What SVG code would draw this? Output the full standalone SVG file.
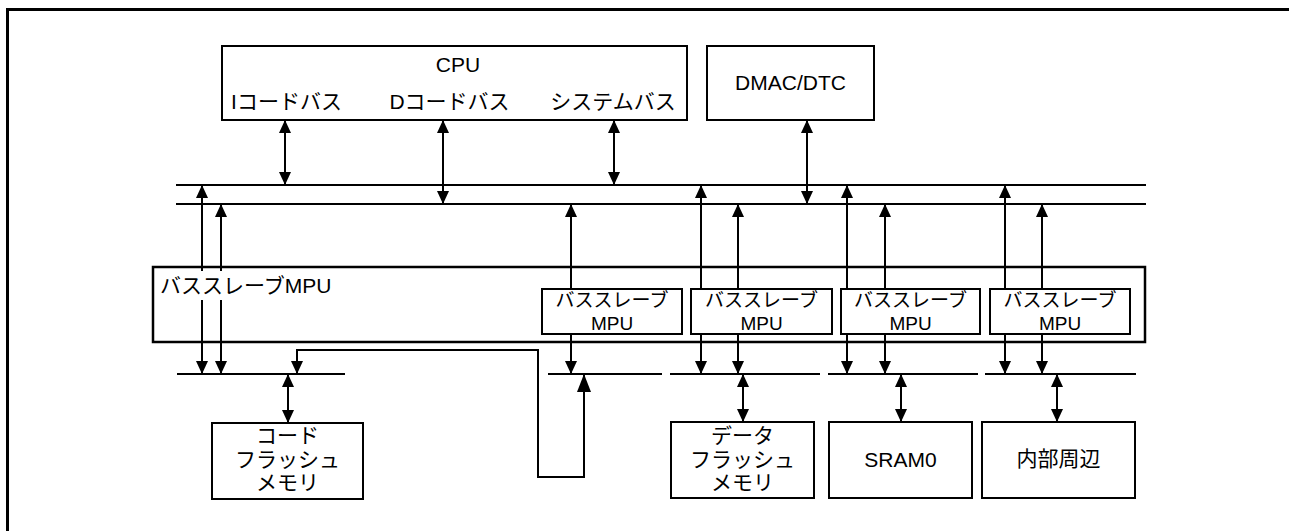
<svg xmlns="http://www.w3.org/2000/svg" width="1289" height="531" viewBox="0 0 1289 531">
<style>
.box{fill:none;stroke:#000;stroke-width:2}
.big{fill:none;stroke:#000;stroke-width:2.5}
.bus{fill:none;stroke:#000;stroke-width:1.8}
.ln{fill:none;stroke:#000;stroke-width:2}
.both{marker-start:url(#ah);marker-end:url(#ah)}
.end{marker-end:url(#ah)}
.start{marker-start:url(#ah)}
text{font-family:"Liberation Sans","Noto Sans CJK JP",sans-serif;fill:#000}
.t20{font-size:21px}
.t18{font-size:19px}
.m{text-anchor:middle}
</style>
<defs>
<marker id="ah" markerUnits="userSpaceOnUse" markerWidth="14" markerHeight="13" refX="13" refY="6" orient="auto-start-reverse" viewBox="0 0 14 12">
<path d="M0,0 L13,6 L0,12 Z" fill="#000"/>
</marker>
<marker id="ahbig" markerUnits="userSpaceOnUse" markerWidth="19" markerHeight="14" refX="18" refY="7" orient="auto-start-reverse" viewBox="0 0 19 14">
<path d="M0,0 L18,7 L0,14 Z" fill="#000"/>
</marker>
</defs>
<rect width="1289" height="531" fill="#fff"/>
<path d="M7.5,531 V9.5 H1289" fill="none" stroke="#000" stroke-width="3"/>

<g id="cpu">
<rect class="box" x="222" y="46" width="465" height="74"/>
<text class="t20 m" x="458" y="72">CPU</text>
<text class="t20 m" x="286.5" y="109">Iコードバス</text>
<text class="t20 m" x="449.5" y="109">Dコードバス</text>
<text class="t20 m" x="613" y="109">システムバス</text>
</g>
<g id="dmac">
<rect class="box" x="707" y="46" width="167" height="74"/>
<text class="t20 m" x="790.5" y="90">DMAC/DTC</text>
</g>
<g id="bus-main">
<line class="bus" x1="176" y1="185" x2="1146" y2="185"/>
<line class="bus" x1="176" y1="204" x2="1146" y2="204"/>
</g>
<g id="mpu-group">
<rect class="big" x="153" y="267" width="992" height="75"/>
<text class="t20" x="160" y="293">バススレーブMPU</text>
</g>
<g id="mpu1">
<rect class="box" x="542" y="289" width="140" height="45"/>
<text class="t18 m" x="612" y="306.5">バススレーブ</text>
<text class="t18 m" x="612" y="330">MPU</text>
</g>
<g id="mpu2">
<rect class="box" x="691" y="289" width="141" height="45"/>
<text class="t18 m" x="761.5" y="306.5">バススレーブ</text>
<text class="t18 m" x="761.5" y="330">MPU</text>
</g>
<g id="mpu3">
<rect class="box" x="841" y="289" width="139" height="45"/>
<text class="t18 m" x="910.5" y="306.5">バススレーブ</text>
<text class="t18 m" x="910.5" y="330">MPU</text>
</g>
<g id="mpu4">
<rect class="box" x="990" y="289" width="140" height="45"/>
<text class="t18 m" x="1060" y="306.5">バススレーブ</text>
<text class="t18 m" x="1060" y="330">MPU</text>
</g>
<g id="bus-local">
<line class="bus" x1="177" y1="374" x2="345" y2="374"/>
<line class="bus" x1="548" y1="374" x2="662" y2="374"/>
<line class="bus" x1="670" y1="374" x2="820" y2="374"/>
<line class="bus" x1="828" y1="374" x2="978" y2="374"/>
<line class="bus" x1="985" y1="374" x2="1136" y2="374"/>
</g>
<g id="code-flash">
<rect class="box" x="212" y="423" width="151" height="76"/>
<text class="t20 m" x="287.5" y="443">コード</text>
<text class="t20 m" x="287.5" y="466.5">フラッシュ</text>
<text class="t20 m" x="287.5" y="490">メモリ</text>
</g>
<g id="data-flash">
<rect class="box" x="671" y="422" width="143" height="76"/>
<text class="t20 m" x="742.5" y="443">データ</text>
<text class="t20 m" x="742.5" y="466.5">フラッシュ</text>
<text class="t20 m" x="742.5" y="490">メモリ</text>
</g>
<g id="sram0">
<rect class="box" x="829" y="422" width="143" height="76"/>
<text class="t20 m" x="900.5" y="467">SRAM0</text>
</g>
<g id="periph">
<rect class="box" x="982" y="422" width="153" height="76"/>
<text class="t20 m" x="1058.5" y="466">内部周辺</text>
</g>

<g id="connectors">
<line class="ln both" x1="285" y1="120" x2="285" y2="185"/>
<line class="ln both" x1="443" y1="120" x2="443" y2="204"/>
<line class="ln both" x1="614" y1="120" x2="614" y2="185"/>
<line class="ln both" x1="807" y1="120" x2="807" y2="204"/>

<line class="ln start" x1="202" y1="185" x2="202" y2="271"/>
<line class="ln end" x1="202" y1="300" x2="202" y2="374"/>
<line class="ln start" x1="221" y1="204" x2="221" y2="271"/>
<line class="ln end" x1="221" y1="300" x2="221" y2="374"/>

<line class="ln end" x1="571" y1="289" x2="571" y2="204"/>
<line class="ln end" x1="571" y1="334" x2="571" y2="374"/>

<line class="ln end" x1="701" y1="289" x2="701" y2="185"/>
<line class="ln end" x1="738" y1="289" x2="738" y2="204"/>
<line class="ln end" x1="701" y1="334" x2="701" y2="374"/>
<line class="ln end" x1="738" y1="334" x2="738" y2="374"/>

<line class="ln end" x1="847" y1="289" x2="847" y2="185"/>
<line class="ln end" x1="885" y1="289" x2="885" y2="204"/>
<line class="ln end" x1="847" y1="334" x2="847" y2="374"/>
<line class="ln end" x1="885" y1="334" x2="885" y2="374"/>

<line class="ln end" x1="1005" y1="289" x2="1005" y2="185"/>
<line class="ln end" x1="1042" y1="289" x2="1042" y2="204"/>
<line class="ln end" x1="1005" y1="334" x2="1005" y2="374"/>
<line class="ln end" x1="1042" y1="334" x2="1042" y2="374"/>

<line class="ln both" x1="288" y1="374" x2="288" y2="423"/>
<line class="ln both" x1="743" y1="374" x2="743" y2="422"/>
<line class="ln both" x1="901" y1="374" x2="901" y2="422"/>
<line class="ln both" x1="1057" y1="374" x2="1057" y2="422"/>

<path class="ln" d="M584,374 V477 H538 V350 H297 V374" marker-start="url(#ahbig)" marker-end="url(#ah)"/>
</g>
</svg>
